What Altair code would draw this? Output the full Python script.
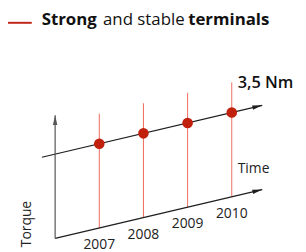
import math
import altair as alt
import pandas as pd

# ---- data ----
years = [2007, 2008, 2009, 2010]
torque = [3.5, 3.5, 3.5, 3.5]
year_labels = ["2007", "2008", "2009", "2010"]
torque_label = "3,5 Nm"
stem_top = 4.75          # Nm, height of the red drop lines
axis_start_year = 2006.0
axis_end_year = 2010.69
line_start_year = 2005.70
torque_axis_top = 5.12   # Nm
SLANT = 0.432            # oblique projection: Nm rise per year

X_DOMAIN = [2005, 2011.5]
Y_DOMAIN = [-0.62, 9.09]
W, H = 290, 236


def proj(year, h):
    return h + SLANT * (year - 2007)


pts = pd.DataFrame({"year": years, "torque": torque, "label": year_labels})
pts["y"] = [proj(a, b) for a, b in zip(years, torque)]
pts["y0"] = [proj(a, 0) for a in years]
pts["ytop"] = [proj(a, stem_top) for a in years]

segs = pd.DataFrame({
    "x": [axis_start_year, line_start_year, axis_start_year],
    "y": [proj(axis_start_year, 0), proj(line_start_year, torque[0]), proj(axis_start_year, 0)],
    "x2": [axis_end_year, axis_end_year, axis_start_year],
    "y2": [proj(axis_end_year, 0), proj(axis_end_year, torque[-1]), proj(axis_start_year, torque_axis_top)],
    "c": ["#1e1e1e", "#1e1e1e", "#555555"],
})

px_per_year = W / (X_DOMAIN[1] - X_DOMAIN[0])
px_per_nm = H / (Y_DOMAIN[1] - Y_DOMAIN[0])
slope_deg = math.degrees(math.atan(SLANT * px_per_nm / px_per_year))
arrows = pd.DataFrame({
    "x": [axis_end_year, axis_end_year, axis_start_year],
    "y": [proj(axis_end_year, 0), proj(axis_end_year, torque[-1]), proj(axis_start_year, torque_axis_top)],
    "angle": [90 - slope_deg, 90 - slope_deg, 0],
    "c": ["#1e1e1e", "#1e1e1e", "#555555"],
})

xs = alt.Scale(domain=X_DOMAIN, nice=False, zero=False)
ys = alt.Scale(domain=Y_DOMAIN, nice=False, zero=False)


def X(f):
    return alt.X(f, type="quantitative", scale=xs, axis=None)


def Y(f):
    return alt.Y(f, type="quantitative", scale=ys, axis=None)


lines = alt.Chart(segs).mark_rule(strokeWidth=1.2).encode(
    x=X("x"), y=Y("y"), x2="x2", y2="y2", color=alt.Color("c:N", scale=None)
)
heads = alt.Chart(arrows).mark_point(
    filled=True, opacity=1, size=100, shape="M0,0L0.45,2L-0.45,2Z"
).encode(
    x=X("x"), y=Y("y"), angle=alt.Angle("angle:Q", scale=None),
    color=alt.Color("c:N", scale=None)
)
stems = alt.Chart(pts).mark_rule(color="#f26a5e", strokeWidth=1).encode(
    x=X("year"), y=Y("y0"), y2="ytop"
)
dots = alt.Chart(pts).mark_point(filled=True, opacity=1, size=115, shape="circle", color="#c0200c").encode(
    x=X("year"), y=Y("y")
)
ylab = alt.Chart(pts).mark_text(
    font="Open Sans", fontSize=14, align="center", baseline="alphabetic", dy=21.5, color="#222222"
).encode(x=X("year"), y=Y("y0"), text="label")

last = pts.tail(1).copy()
last["tl"] = torque_label
last["time"] = "Time"
nm = alt.Chart(last).mark_text(
    font="Open Sans", fontSize=16.5, fontWeight=600, align="left", baseline="alphabetic",
    dx=6, dy=6, color="#111111"
).encode(x=X("year"), y=Y("ytop"), text="tl")
time_lab = alt.Chart(last).mark_text(
    font="Open Sans", fontSize=14, align="left", baseline="alphabetic",
    dx=6, dy=-23.5, color="#222222"
).encode(x=X("year"), y=Y("y0"), text="time")

torque_lab = alt.Chart(pd.DataFrame({"t": ["Torque"]})).mark_text(
    font="Open Sans", fontSize=14, align="center", baseline="alphabetic", angle=270, color="#222222"
).encode(x=alt.value(20.5), y=alt.value(217), text="t")

title_line = alt.Chart(pd.DataFrame({"a": [0]})).mark_rule(color="#c0261a", strokeWidth=2).encode(
    x=alt.value(-3), x2=alt.value(21), y=alt.value(13.7)
)
t_df = pd.DataFrame({"t": ["Strong", "and stable", "terminals"]})
t1 = alt.Chart(t_df.iloc[[0]]).mark_text(font="Open Sans", fontSize=17, fontWeight="bold", align="left",
                                          baseline="alphabetic", color="#111111").encode(
    x=alt.value(31), y=alt.value(16.3), text="t")
t2 = alt.Chart(t_df.iloc[[1]]).mark_text(font="Open Sans", fontSize=17, fontWeight="normal", align="left",
                                          baseline="alphabetic", color="#111111").encode(
    x=alt.value(93), y=alt.value(16.3), text="t")
t3 = alt.Chart(t_df.iloc[[2]]).mark_text(font="Open Sans", fontSize=17, fontWeight="bold", align="left",
                                          baseline="alphabetic", color="#111111").encode(
    x=alt.value(179), y=alt.value(16.3), text="t")

chart = alt.layer(
    stems, lines, heads, dots, ylab, nm, time_lab, torque_lab, title_line, t1, t2, t3
).properties(
    width=W, height=H, autosize="none",
    padding={"left": 3, "top": 0, "right": 0, "bottom": 8},
).configure_view(stroke=None)

chart.save("out.html", embed_options={"renderer": "svg", "actions": False})
